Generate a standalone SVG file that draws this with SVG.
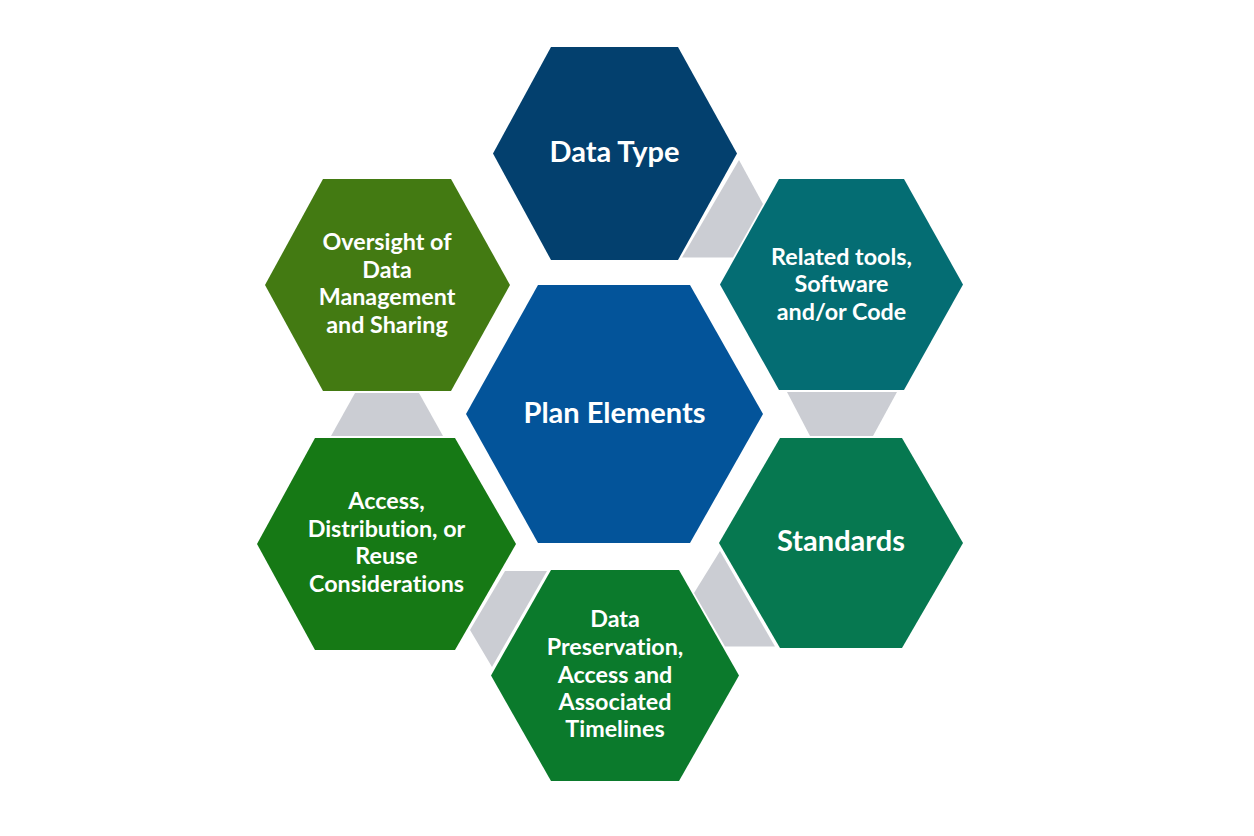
<svg xmlns="http://www.w3.org/2000/svg" width="1254" height="836" viewBox="0 0 1254 836">
<style>
.lbl{font-family:Lato,"Liberation Sans",sans-serif;font-weight:bold;fill:#ffffff;text-anchor:middle;font-variant-ligatures:none}
.big{font-size:29px}
.sm{font-size:23.3px}
.conn{fill:#CBCDD3}
</style>
<rect width="1254" height="836" fill="#ffffff"/>
<g id="connectors">
<polygon class="conn" points="682,257.5 739,160 763,204 733,257.5"/>
<polygon class="conn" points="787,392 897,392 873,436 810,436"/>
<polygon class="conn" points="720,551 775,646.5 725,646.5 694,593"/>
<polygon class="conn" points="547,571 492,667 470,630 505,571"/>
<polygon class="conn" points="331,436 443,436 419,393 355,393"/>
</g>
<g id="center">
<polygon points="466,414 538,285 690,285 763,414 690,543 538,543" fill="#03549A"/>
<text class="lbl big" x="614.5" y="423">Plan Elements</text>
</g>
<g id="data-type">
<polygon points="493,153.5 551,47 678,47 737,153.5 678,260 551,260" fill="#03406E"/>
<text class="lbl big" x="614.5" y="162">Data Type</text>
</g>
<g id="related-tools">
<polygon points="720,284.5 779,179 904,179 963,284.5 904,390 779,390" fill="#046D73"/>
<text class="lbl sm" x="841.5" y="265">Related tools,</text>
<text class="lbl sm" x="841.5" y="292">Software</text>
<text class="lbl sm" x="841.5" y="319.5">and/or Code</text>
</g>
<g id="standards">
<polygon points="719,543 780,438 902,438 963,543 902,648 780,648" fill="#067850"/>
<text class="lbl big" x="841" y="551">Standards</text>
</g>
<g id="data-preservation">
<polygon points="491,675.5 551,570 679,570 739,675.5 679,781 551,781" fill="#0B7A2C"/>
<text class="lbl sm" x="615" y="627">Data</text>
<text class="lbl sm" x="615" y="654.5">Preservation,</text>
<text class="lbl sm" x="615" y="682.5">Access and</text>
<text class="lbl sm" x="615" y="710">Associated</text>
<text class="lbl sm" x="615" y="737">Timelines</text>
</g>
<g id="access">
<polygon points="257,544 315,438 455,438 516,544 455,650 315,650" fill="#167915"/>
<text class="lbl sm" x="386.5" y="509">Access,</text>
<text class="lbl sm" x="386.5" y="536.5">Distribution, or</text>
<text class="lbl sm" x="386.5" y="564">Reuse</text>
<text class="lbl sm" x="386.5" y="591.5">Considerations</text>
</g>
<g id="oversight">
<polygon points="265,285 323,179 451,179 510,285 451,391 323,391" fill="#437A12"/>
<text class="lbl sm" x="387" y="250">Oversight of</text>
<text class="lbl sm" x="387" y="277.5">Data</text>
<text class="lbl sm" x="387" y="305">Management</text>
<text class="lbl sm" x="387" y="332.5">and Sharing</text>
</g>
</svg>
